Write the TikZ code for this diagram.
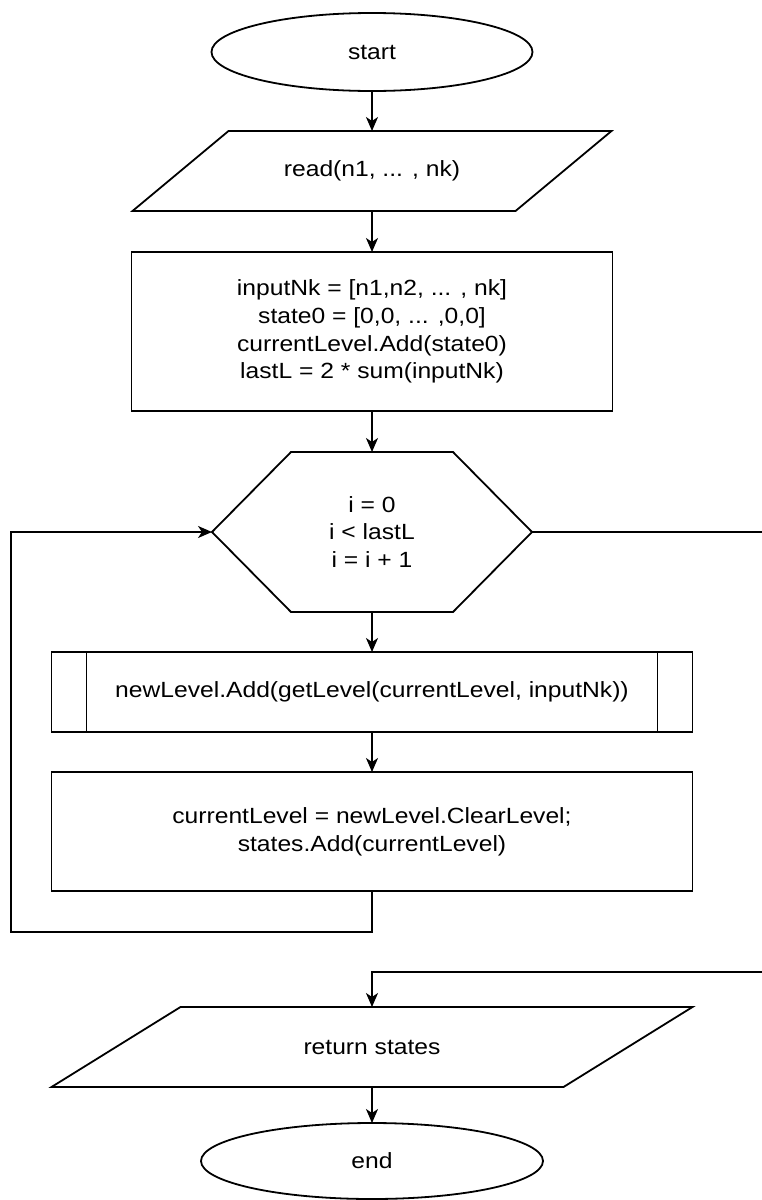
\documentclass[tikz,border=0pt]{standalone}
\usepackage{fontspec}
\setmainfont{Liberation Sans}[FakeStretch=1.12]
\usetikzlibrary{arrows.meta, shapes.geometric, calc}

\begin{document}
\begin{tikzpicture}[x = 1pt, y = -1pt,
    every node/.style = {font=\fontsize{22}{27.7}\selectfont, align=center,
        inner sep=0pt, outer sep=0pt},
    linea/.style = {line width=1.8pt},
    freccia/.style = {linea, -{Stealth[length=14pt, width=12pt, inset=4pt]}},
    terminale/.style = {draw, linea, ellipse},
    blocco/.style = {draw, linea, rectangle},
    ingresso/.style = {rectangle, minimum height=80pt}
]

    \useasboundingbox (0,0) rectangle (761,1200);
    \fill[white] (0,0) rectangle (761,1200);

    % Inizio e fine
    \node[terminale, minimum width=321pt, minimum height=78pt] (start) at (372,52) {start};
    \node[terminale, minimum width=342pt, minimum height=76pt] (end) at (372,1161) {end};

    % Lettura input
    \node[ingresso, minimum width=383pt] (read) at (372,171) {read(n1, ... , nk)};
    \draw[linea] ([xshift=48]read.north west) -- ([xshift=48]read.north east)
        -- ([xshift=-48]read.south east) -- ([xshift=-48]read.south west) -- cycle;

    % Inizializzazione
    \node[blocco, minimum width=481pt, minimum height=159pt] (init) at (372,331.5)
        {inputNk = [n1,n2, ... , nk]\\ state0 = [0,0, ... ,0,0]\\
         currentLevel.Add(state0)\\ lastL = 2 * sum(inputNk)};

    % Ciclo for (esagono)
    \node[rectangle, minimum width=320pt, minimum height=160pt] (hex) at (372,532)
        {i = 0\\ i < lastL\\ i = i + 1};
    \draw[linea] (hex.west) -- ([xshift=79]hex.north west) -- ([xshift=-79]hex.north east)
        -- (hex.east) -- ([xshift=-79]hex.south east) -- ([xshift=79]hex.south west) -- cycle;

    % Sottoprogramma
    \node[blocco, minimum width=641pt, minimum height=80pt] (sub) at (372,692)
        {newLevel.Add(getLevel(currentLevel, inputNk))};
    \draw[linea] ([xshift=35]sub.north west) -- ([xshift=35]sub.south west);
    \draw[linea] ([xshift=-35]sub.north east) -- ([xshift=-35]sub.south east);

    % Aggiornamento livello
    \node[blocco, minimum width=641pt, minimum height=119pt] (proc) at (372,831.5)
        {currentLevel = newLevel.ClearLevel;\\ states.Add(currentLevel)};

    % Output
    \node[ingresso, minimum width=512pt] (ret) at (372,1047) {return states};
    \draw[linea] ([xshift=64.5]ret.north west) -- ([xshift=64.5]ret.north east)
        -- ([xshift=-64.5]ret.south east) -- ([xshift=-64.5]ret.south west) -- cycle;

    % Frecce
    \draw[freccia] (start) -- (read);
    \draw[freccia] (read) -- (init);
    \draw[freccia] (init) -- (hex);
    \draw[freccia] (hex) -- (sub);
    \draw[freccia] (sub) -- (proc);
    \draw[freccia] (ret) -- (end);

    % Ritorno del ciclo e uscita
    \coordinate (loopL) at (11,932);
    \coordinate (exitR) at (763,972);
    \draw[freccia] (proc.south) |- (loopL) |- (hex.west);
    \draw[freccia] (hex.east) -| (exitR) -| (ret.north);

\end{tikzpicture}
\end{document}
